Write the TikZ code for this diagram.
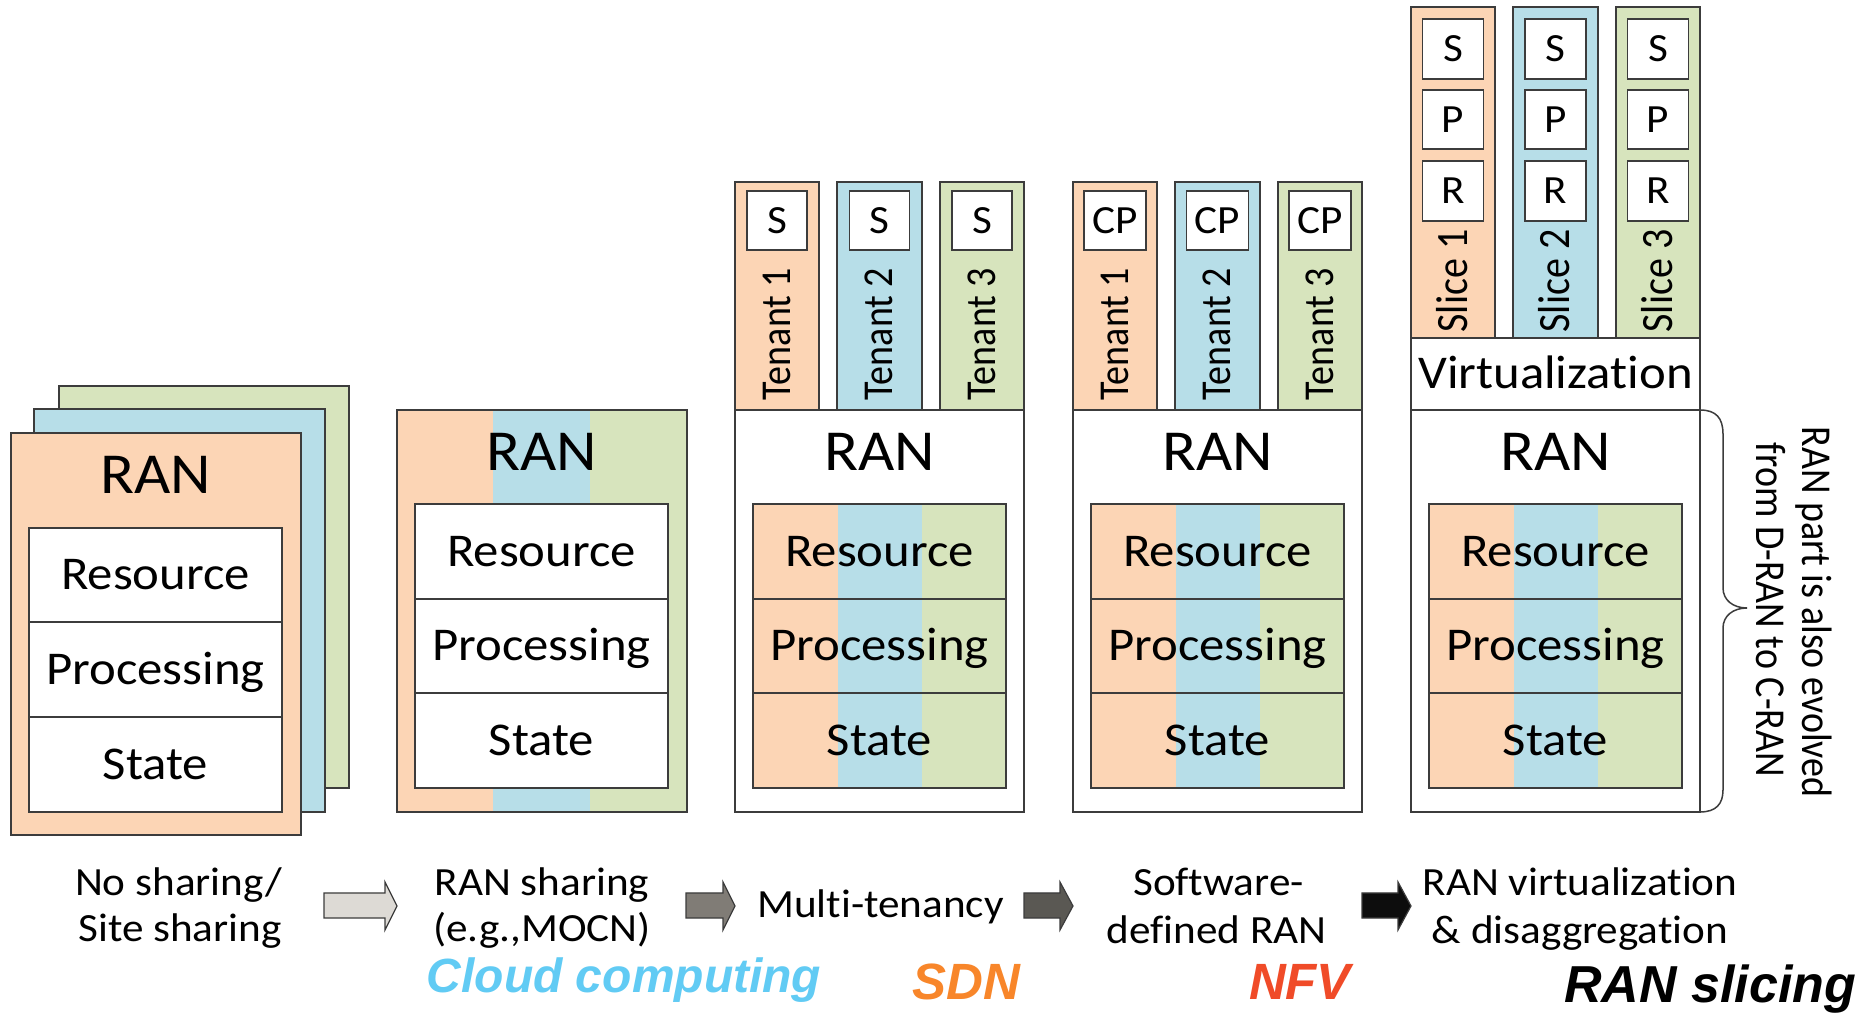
\documentclass[tikz,border=0pt]{standalone}
\usepackage{fontspec}
\usepackage{graphicx}
\setmainfont{Carlito}[Ligatures=NoCommon]
\newfontfamily\hfont{Carlito}[FakeStretch=1.08, Ligatures=NoCommon]
\newfontfamily\afont{Liberation Sans}
\definecolor{cpeach}{HTML}{FCD5B5}
\definecolor{cblue}{HTML}{B7DEE8}
\definecolor{cgreen}{HTML}{D7E4BD}
\definecolor{cline}{HTML}{3C3C3C}
\definecolor{ccloud}{RGB}{97,203,244}
\definecolor{csdn}{RGB}{248,134,42}
\definecolor{cnfv}{RGB}{240,75,40}
\definecolor{arrA}{HTML}{DDDAD5}
\definecolor{arrB}{HTML}{807C76}
\definecolor{arrC}{HTML}{5A5853}
\definecolor{arrD}{HTML}{0D0D0D}
\tikzset{
  ln/.style={draw=cline, line width=0.75pt},
  big/.style={font=\hfont\fontsize{29}{29}\selectfont, inner sep=0pt, text height=18.33pt, text depth=0pt},
  layer/.style={font=\hfont\fontsize{23.5}{23.5}\selectfont, inner sep=0pt, text height=14.85pt, text depth=0pt},
  letter/.style={font=\hfont\fontsize{20}{20}\selectfont, inner sep=0pt, text height=12.64pt, text depth=0pt},
  vtxt/.style={inner sep=0pt, text depth=0pt, rotate=90},
  lab/.style={font=\hfont\fontsize{20}{20}\selectfont, inner sep=0pt, anchor=base},
  tech/.style={font=\afont\bfseries\itshape\fontsize{25.5}{25.5}\selectfont, inner sep=0pt, anchor=base},
}
\newcommand\coltable[2]{%
  \fill[cpeach] (#1,504) rectangle ++(85,284);
  \fill[cblue] ({#1+85},504) rectangle ++(84,284);
  \fill[cgreen] ({#1+169},504) rectangle ++(84,284);
  \draw[ln] (#1,504) rectangle ++(253,284);
  \draw[ln] (#1,599) -- ++(253,0);
  \draw[ln] (#1,693) -- ++(253,0);
  \node[layer] (#2res) at ({#1+126.5},551.5) {Resource};
  \node[layer] (#2proc) at ({#1+126.5},646) {Processing};
  \node[layer] (#2state) at ({#1+126.5},740.5) {State};
}
\newcommand\blockarrow[4]{%
  \filldraw[draw=cline, line width=0.6pt, fill=#4] (#1,893) -- (#2,893) -- (#2,882) -- (#3,906) -- (#2,930) -- (#2,918) -- (#1,918) -- cycle;
}
\begin{document}
\begin{tikzpicture}[x=0.5pt, y=-0.5pt]
\useasboundingbox (0,0) rectangle (1865,1015);
\fill[white] (0,0) rectangle (1865,1015);

% ---------- Stack 1: no sharing
\filldraw[ln, fill=cgreen] (59,386) rectangle (349,788);
\filldraw[ln, fill=cblue] (34,409) rectangle (325,812);
\filldraw[ln, fill=cpeach] (11,433) rectangle (301,835);
\filldraw[ln, fill=white] (29,528) rectangle (282,812);
\draw[ln] (29,622) -- (282,622);
\draw[ln] (29,717) -- (282,717);
\node[big] (ran1) at (156,475.5) {RAN};
\node[layer] (res1) at (155.5,575) {Resource};
\node[layer] (proc1) at (155.5,669.5) {Processing};
\node[layer] (state1) at (155.5,764.5) {State};

% ---------- Stack 2: RAN sharing
\fill[cpeach] (397,410) rectangle (493,812);
\fill[cblue] (493,410) rectangle (590,812);
\fill[cgreen] (590,410) rectangle (687,812);
\draw[ln] (397,410) rectangle (687,812);
\filldraw[ln, fill=white] (415,504) rectangle (668,788);
\draw[ln] (415,599) -- (668,599);
\draw[ln] (415,693) -- (668,693);
\node[big] (ran2) at (542,452) {RAN};
\node[layer] (res2) at (541.5,551.5) {Resource};
\node[layer] (proc2) at (541.5,646) {Processing};
\node[layer] (state2) at (541.5,740.5) {State};

% ---------- Stack 3: multi-tenancy
\filldraw[ln, fill=white] (735,410) rectangle (1024,812);
\node[big] (ran3) at (879.5,452) {RAN};
\coltable{753}{mt}
\foreach \a/\b/\c/\n in {0/84/cpeach/1,102/187/cblue/2,205/289/cgreen/3}{
  \filldraw[ln, fill=\c] ({735+\a},182) rectangle ({735+\b},410);
  \filldraw[ln, fill=white] ({735+(\a+\b)/2-30},191) rectangle ++(60,59);
  \node[letter] (mtS\n) at ({735+(\a+\b)/2},220.5) {S};
  \node[vtxt, font=\fontsize{19}{19}\selectfont, text height=13.45pt] (mtT\n) at ({735+(\a+\b)/2},334) {\scalebox{1}[1.12]{Tenant \n}};
}

% ---------- Stack 4: software-defined RAN
\filldraw[ln, fill=white] (1073,410) rectangle (1362,812);
\node[big] (ran4) at (1217.5,452) {RAN};
\coltable{1091}{sd}
\foreach \a/\b/\c/\n in {0/84/cpeach/1,102/187/cblue/2,205/289/cgreen/3}{
  \filldraw[ln, fill=\c] ({1073+\a},182) rectangle ({1073+\b},410);
  \filldraw[ln, fill=white] ({1073+(\a+\b)/2-31},191) rectangle ++(62,59);
  \node[letter] (sdC\n) at ({1073+(\a+\b)/2},220.5) {CP};
  \node[vtxt, font=\fontsize{19}{19}\selectfont, text height=13.45pt] (sdT\n) at ({1073+(\a+\b)/2},334) {\scalebox{1}[1.12]{Tenant \n}};
}

% ---------- Stack 5: RAN virtualization & slicing
\filldraw[ln, fill=white] (1411,410) rectangle (1700,812);
\node[big] (ran5) at (1555.5,452) {RAN};
\coltable{1429}{vs}
\filldraw[ln, fill=white] (1411,338) rectangle (1700,410);
\node[layer] (virt) at (1555.5,374) {Virtualization};
\foreach \a/\b/\c/\n in {0/84/cpeach/1,102/187/cblue/2,205/289/cgreen/3}{
  \filldraw[ln, fill=\c] ({1411+\a},7) rectangle ({1411+\b},338);
  \filldraw[ln, fill=white] ({1411+(\a+\b)/2-30.5},19) rectangle ++(61,60);
  \filldraw[ln, fill=white] ({1411+(\a+\b)/2-30.5},90) rectangle ++(61,59);
  \filldraw[ln, fill=white] ({1411+(\a+\b)/2-30.5},161) rectangle ++(61,60);
  \node[letter] (vsS\n) at ({1411+(\a+\b)/2},49) {S};
  \node[letter] (vsP\n) at ({1411+(\a+\b)/2},119.5) {P};
  \node[letter] (vsR\n) at ({1411+(\a+\b)/2},191) {R};
  \node[vtxt, font=\fontsize{20}{20}\selectfont, text height=14.16pt] (vsT\n) at ({1411+(\a+\b)/2},281) {\scalebox{1}[1.12]{Slice \n}};
}

% brace
\draw[cline, line width=0.75pt] (1700,410) .. controls (1716,410) and (1723,418) .. (1723,434)
  -- (1723,588) .. controls (1723,600) and (1733,608) .. (1747,608)
  .. controls (1733,608) and (1723,616) .. (1723,628)
  -- (1723,790) .. controls (1723,804) and (1716,812) .. (1700,812);
\node[vtxt, rotate=180, font=\fontsize{19}{19}\selectfont, text height=13.45pt] (brace1) at (1816,612) {\scalebox{1}[1.12]{RAN part is also evolved}};
\node[vtxt, rotate=180, font=\fontsize{19}{19}\selectfont, text height=13.45pt] (brace2) at (1770,610) {\scalebox{1}[1.12]{from D-RAN to C-RAN}};

% ---------- bottom labels
\node[lab] (l1a) at (178.5,895) {No sharing/};
\node[lab] (l1b) at (180,942) {Site sharing};
\node[lab] (l2a) at (542,895) {RAN sharing};
\node[lab] (l2b) at (542,942) {(e.g.,MOCN)};
\node[lab] (l3) at (880.5,918) {Multi-tenancy};
\node[lab] (l4a) at (1218.5,895) {Software-};
\node[lab] (l4b) at (1216.5,943) {defined RAN};
\node[lab] (l5a) at (1580,895) {RAN virtualization};
\node[lab] (l5b) at (1580,943) {\&~disaggregation};

\blockarrow{324}{385}{397}{arrA}
\blockarrow{686}{723}{735}{arrB}
\blockarrow{1024}{1060}{1073}{arrC}
\blockarrow{1362}{1398}{1411}{arrD}

\node[tech, text=ccloud, font=\afont\bfseries\itshape\fontsize{24}{24}\selectfont] (cloud) at (624,992) {Cloud computing};
\node[tech, text=csdn] (sdn) at (966,999) {SDN};
\node[tech, text=cnfv] (nfv) at (1300,1000) {NFV};
\node[tech, anchor=base west, text=black, font=\afont\bfseries\itshape\fontsize{26}{26}\selectfont] (slicing) at (1564,1002) {RAN slicing};
\end{tikzpicture}
\end{document}
